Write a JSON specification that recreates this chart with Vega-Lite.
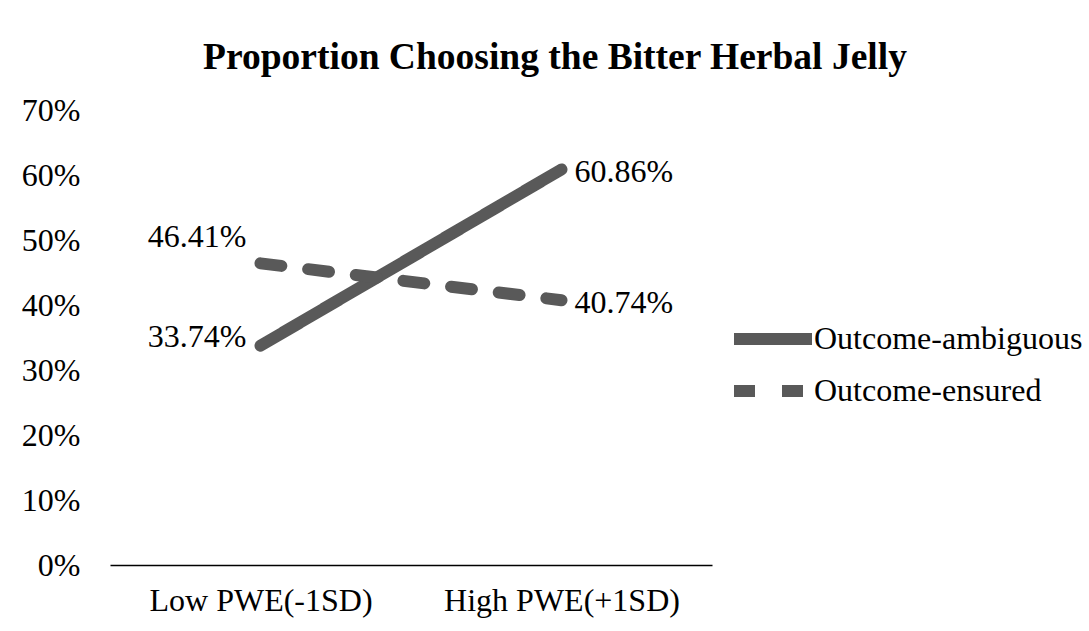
{
  "$schema": "https://vega.github.io/schema/vega-lite/v6.json",
  "width": 602,
  "height": 455,
  "autosize": {"type": "none"},
  "padding": {"left": 110, "top": 110, "right": 377, "bottom": 66},
  "background": "white",
  "config": {"font": "Liberation Serif", "view": {"stroke": null}},
  "title": {"text": "Proportion Choosing the Bitter Herbal Jelly", "font": "Liberation Serif", "fontSize": 37.5, "fontWeight": "bold", "color": "black", "anchor": "middle", "dx": 144, "offset": 18},
  "data": {"values": [
    {"pwe": "Low PWE(-1SD)", "condition": "Outcome-ambiguous", "p": 0.3374},
    {"pwe": "High PWE(+1SD)", "condition": "Outcome-ambiguous", "p": 0.6086},
    {"pwe": "Low PWE(-1SD)", "condition": "Outcome-ensured", "p": 0.4641},
    {"pwe": "High PWE(+1SD)", "condition": "Outcome-ensured", "p": 0.4074}
  ]},
  "encoding": {
    "x": {"field": "pwe", "type": "nominal", "sort": ["Low PWE(-1SD)", "High PWE(+1SD)"],
      "scale": {"type": "point", "padding": 0.5},
      "axis": {"title": null, "labelAngle": 0, "ticks": false, "domainColor": "black", "domainWidth": 1.5, "labelFont": "Liberation Serif", "labelFontSize": 32, "labelColor": "black", "labelPadding": 20, "labelLimit": 400, "grid": false}},
    "y": {"field": "p", "type": "quantitative",
      "scale": {"domain": [0, 0.7], "nice": false, "zero": true},
      "axis": {"title": null, "format": ".0%", "values": [0, 0.1, 0.2, 0.3, 0.4, 0.5, 0.6, 0.7], "ticks": false, "domain": false, "grid": false, "labelFont": "Liberation Serif", "labelFontSize": 32, "labelColor": "black", "labelPadding": 30}}
  },
  "layer": [
    {
      "mark": {"type": "line", "color": "#595959", "strokeWidth": 12, "strokeCap": "round"},
      "encoding": {
        "strokeDash": {"field": "condition", "type": "nominal",
          "scale": {"domain": ["Outcome-ambiguous", "Outcome-ensured"], "range": [[1, 0], [21, 27]]},
          "legend": {"title": null, "orient": "none", "legendX": 618, "legendY": 203, "symbolType": "M-1,0H1", "symbolSize": 6084, "symbolStrokeWidth": 12, "symbolStrokeColor": "#595959", "symbolFillColor": "transparent", "labelFont": "Liberation Serif", "labelFontSize": 32, "labelColor": "black", "labelOffset": -4, "rowPadding": 0, "clipHeight": 52, "labelLimit": 400}}
      }
    },
    {
      "transform": [{"filter": "datum.pwe === 'High PWE(+1SD)'"}],
      "mark": {"type": "text", "align": "left", "baseline": "middle", "dx": 13, "dy": 3, "fontSize": 32, "font": "Liberation Serif", "color": "black"},
      "encoding": {"text": {"field": "p", "type": "quantitative", "format": ".2%"}}
    },
    {
      "transform": [{"filter": "datum.pwe === 'Low PWE(-1SD)' && datum.condition === 'Outcome-ambiguous'"}],
      "mark": {"type": "text", "align": "right", "baseline": "middle", "dx": -14, "dy": -9, "fontSize": 32, "font": "Liberation Serif", "color": "black"},
      "encoding": {"text": {"field": "p", "type": "quantitative", "format": ".2%"}}
    },
    {
      "transform": [{"filter": "datum.pwe === 'Low PWE(-1SD)' && datum.condition === 'Outcome-ensured'"}],
      "mark": {"type": "text", "align": "right", "baseline": "middle", "dx": -14, "dy": -26, "fontSize": 32, "font": "Liberation Serif", "color": "black"},
      "encoding": {"text": {"field": "p", "type": "quantitative", "format": ".2%"}}
    }
  ]
}
